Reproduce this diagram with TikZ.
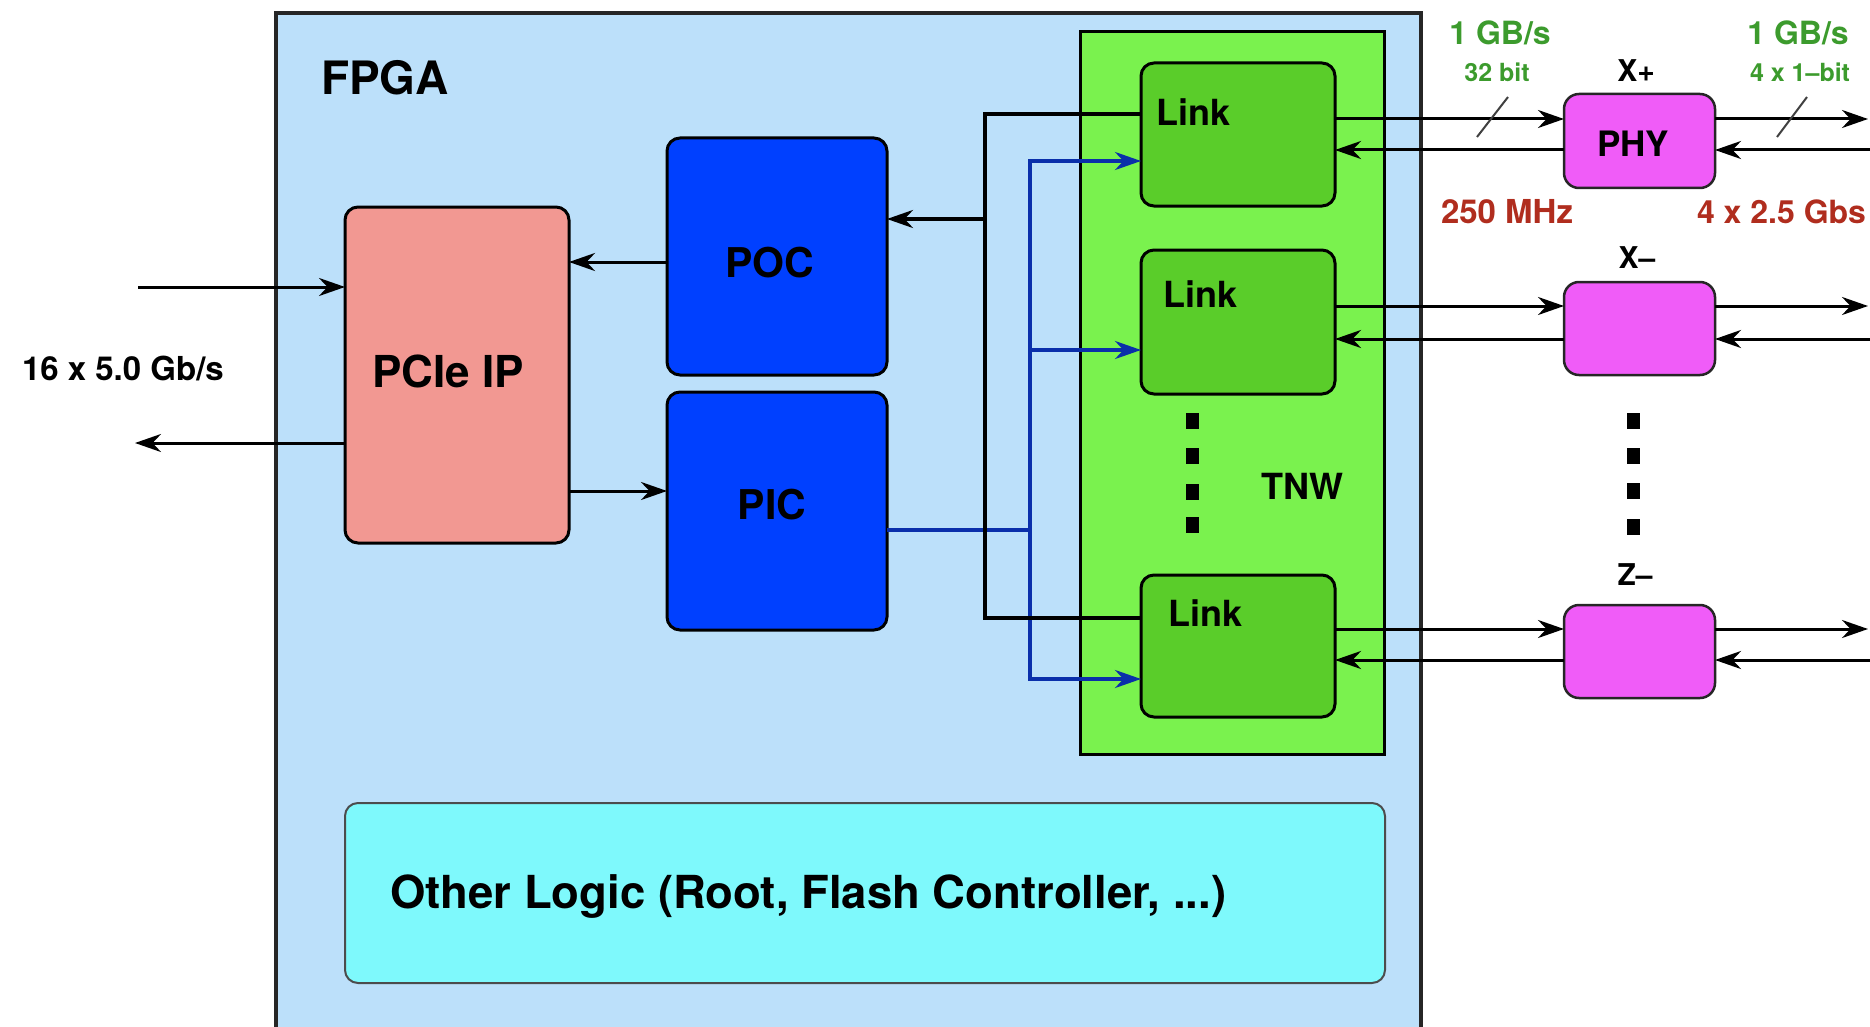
\documentclass[tikz,border=0pt]{standalone}
\usepackage{fontspec}
\setmainfont{TeX Gyre Heros}
\usetikzlibrary{arrows.meta}
\definecolor{fpgabg}{HTML}{BCE0FA}
\definecolor{tnwbg}{HTML}{7AF24E}
\definecolor{linkbg}{HTML}{5ACD2A}
\definecolor{pcbg}{HTML}{0040FF}
\definecolor{pciebg}{HTML}{F29892}
\definecolor{phybg}{HTML}{F05CF8}
\definecolor{otherbg}{HTML}{7EF9FC}
\definecolor{busblue}{HTML}{0A2FAA}
\definecolor{gtext}{HTML}{3C9B2D}
\definecolor{rtext}{HTML}{B02D1E}
\newcommand\myfs[1]{\fontsize{#1pt}{#1pt}\selectfont\bfseries}
\begin{document}
\begin{tikzpicture}[x=1pt,y=-1pt,
  box/.style={draw=black, line width=3pt, rounded corners=13pt, inner sep=0pt, outer sep=0pt},
  txt/.style={inner sep=0pt, outer sep=0pt, anchor=base},
  bk/.style={draw=black, line width=3.5pt},
  bl/.style={draw=busblue, line width=3.5pt},
  arr/.style={-{Stealth[length=26pt,width=18pt]}},
  dotsq/.style={fill=black, inner sep=0pt, minimum width=13pt, minimum height=16pt}
]
\useasboundingbox (0,0) rectangle (1870,1027);
\clip (0,0) rectangle (1870,1027);

% FPGA
\node[draw=black!85, line width=4pt, fill=fpgabg, inner sep=0pt, minimum width=1145pt, minimum height=1040pt] (fpga) at (848.5,533) {};
\node[txt, anchor=base west, font=\myfs{46}] (tfpga) at (321,95) {FPGA};

% TNW
\node[draw=black, line width=3pt, fill=tnwbg, inner sep=0pt, minimum width=304pt, minimum height=722pt] (tnw) at (1232,393) {};
\node[txt, font=\myfs{36}] (ttnw) at (1302,499) {TNW};

% blocks
\node[box, fill=pciebg, minimum width=224pt, minimum height=336pt] (pcie) at (457,375) {};
\node[txt, font=\myfs{44}] (tpcie) at (448,387) {PCIe IP};
\node[box, fill=pcbg, minimum width=220pt, minimum height=237pt] (poc) at (777,256.5) {};
\node[txt, font=\myfs{41}] (tpoc) at (770,277) {POC};
\node[box, fill=pcbg, minimum width=220pt, minimum height=238pt] (pic) at (777,511) {};
\node[txt, font=\myfs{41}] (tpic) at (772,519) {PIC};

% links
\node[box, fill=linkbg, minimum width=194pt, minimum height=143pt] (l1) at (1238,134.5) {};
\node[box, fill=linkbg, minimum width=194pt, minimum height=144pt] (l2) at (1238,322) {};
\node[box, fill=linkbg, minimum width=194pt, minimum height=142pt] (l3) at (1238,646) {};
\node[txt, anchor=base west, font=\myfs{36}] (tl1) at (1156,126) {Link};
\node[txt, anchor=base west, font=\myfs{36}] (tl2) at (1163,307) {Link};
\node[txt, anchor=base west, font=\myfs{36}] (tl3) at (1168,626) {Link};

% dots in TNW
\node[dotsq] (d1) at (1192,420.5) {};
\node[dotsq] (d2) at (1192,456) {};
\node[dotsq] (d3) at (1192,491.5) {};
\node[dotsq] (d4) at (1192,525) {};

% PHYs
\node[box, line width=2.5pt, draw=black!85, fill=phybg, rounded corners=15pt, minimum width=151pt, minimum height=94pt] (p1) at (1639.5,141) {};
\node[box, line width=2.5pt, draw=black!85, fill=phybg, rounded corners=15pt, minimum width=151pt, minimum height=93pt] (p2) at (1639.5,328.5) {};
\node[box, line width=2.5pt, draw=black!85, fill=phybg, rounded corners=15pt, minimum width=151pt, minimum height=93pt] (p3) at (1639.5,651.5) {};
\node[txt, font=\myfs{35}] (tphy) at (1633,157) {PHY};
\node[txt, font=\myfs{30}] (tx1) at (1636,82) {X+};
\node[txt, font=\myfs{30}] (tx2) at (1637,268) {X–};
\node[txt, font=\myfs{30}] (tz2) at (1635,585) {Z–};

\node[dotsq] (e1) at (1633.5,420.5) {};
\node[dotsq] (e2) at (1633.5,455.5) {};
\node[dotsq] (e3) at (1633.5,491) {};
\node[dotsq] (e4) at (1633.5,527) {};

% Other logic
\node[draw=black!70, line width=2pt, fill=otherbg, rounded corners=13pt, inner sep=0pt, minimum width=1040pt, minimum height=180pt] (other) at (865,893) {};
\node[txt, anchor=base west, font=\myfs{45.5}] (tother) at (390,908) {Other Logic (Root, Flash Controller, ...)};

% labels
\node[txt, font=\myfs{32}, text=gtext] (g1) at (1500,45) {1 GB/s};
\node[txt, font=\myfs{32}, text=gtext] (g2) at (1798,45) {1 GB/s};
\node[txt, font=\myfs{25}, text=gtext] (g3) at (1497,82) {32 bit};
\node[txt, font=\myfs{25}, text=gtext] (g4) at (1800,82) {4 x 1–bit};
\node[txt, font=\myfs{33}, text=rtext] (r1) at (1507,223) {250 MHz};
\node[txt, anchor=base east, font=\myfs{32}, text=rtext] (r2) at (1866,223) {4 x 2.5 Gbs};
\node[txt, anchor=base west, font=\myfs{33}] (tgb) at (22,380) {16 x 5.0 Gb/s};

% helper coordinates
\coordinate (inL) at (138,287);
\coordinate (outL) at (135,443);
\coordinate (bt) at (985,114);
\coordinate (bm) at (985,219);
\coordinate (bb) at (985,618);
\coordinate (ut) at (1030,161);
\coordinate (u2) at (1030,350);
\coordinate (um) at (1030,530);
\coordinate (ub) at (1030,679);
\coordinate (a1) at (0,119);  \coordinate (b1) at (0,150);
\coordinate (a2) at (0,306);  \coordinate (b2) at (0,339);
\coordinate (a3) at (0,629);  \coordinate (b3) at (0,660);
\coordinate (ra1) at (1868,119); \coordinate (rb1) at (1870,150);
\coordinate (ra2) at (1868,306); \coordinate (rb2) at (1870,339);
\coordinate (ra3) at (1868,629); \coordinate (rb3) at (1870,660);
\coordinate (s1a) at (1477,137); \coordinate (s1b) at (1508,97);
\coordinate (s2a) at (1777,137); \coordinate (s2b) at (1807,97);
\coordinate (ypoc) at (0,262);
\coordinate (ypic) at (0,491);

% PCIe connectors
\draw[bk, line width=3pt, arr] (inL) -- (pcie.west |- inL);
\draw[bk, line width=3pt, arr] (pcie.west |- outL) -- (outL);
\draw[bk, line width=3pt, arr] (poc.west |- ypoc) -- (pcie.east |- ypoc);
\draw[bk, line width=3pt, arr] (pcie.east |- ypic) -- (pic.west |- ypic);

% blue bus
\draw[bl] (pic.east |- um) -- (um);
\draw[bl, arr] (um) |- (l1.west |- ut);
\draw[bl, arr] (um) |- (l3.west |- ub);
\draw[bl, arr] (u2) -- (l2.west |- u2);

% black bus
\draw[bk, line join=miter] (l1.west |- bt) -- (bt) -- (bb) -- (l3.west |- bb);
\draw[bk, arr] (bm) -- (poc.east |- bm);

% link <-> phy
\draw[bk, line width=3pt, arr] (l1.east |- a1) -- (p1.west |- a1);
\draw[bk, line width=3pt, arr] (p1.west |- b1) -- (l1.east |- b1);
\draw[bk, line width=3pt, arr] (l2.east |- a2) -- (p2.west |- a2);
\draw[bk, line width=3pt, arr] (p2.west |- b2) -- (l2.east |- b2);
\draw[bk, line width=3pt, arr] (l3.east |- a3) -- (p3.west |- a3);
\draw[bk, line width=3pt, arr] (p3.west |- b3) -- (l3.east |- b3);

% phy <-> outside
\draw[bk, line width=3pt, arr] (p1.east |- a1) -- (ra1);
\draw[bk, line width=3pt, arr] (rb1) -- (p1.east |- rb1);
\draw[bk, line width=3pt, arr] (p2.east |- a2) -- (ra2);
\draw[bk, line width=3pt, arr] (rb2) -- (p2.east |- rb2);
\draw[bk, line width=3pt, arr] (p3.east |- a3) -- (ra3);
\draw[bk, line width=3pt, arr] (rb3) -- (p3.east |- rb3);

% bus-width slashes
\draw[black!75, line width=2pt] (s1a) -- (s1b);
\draw[black!75, line width=2pt] (s2a) -- (s2b);
\end{tikzpicture}
\end{document}
